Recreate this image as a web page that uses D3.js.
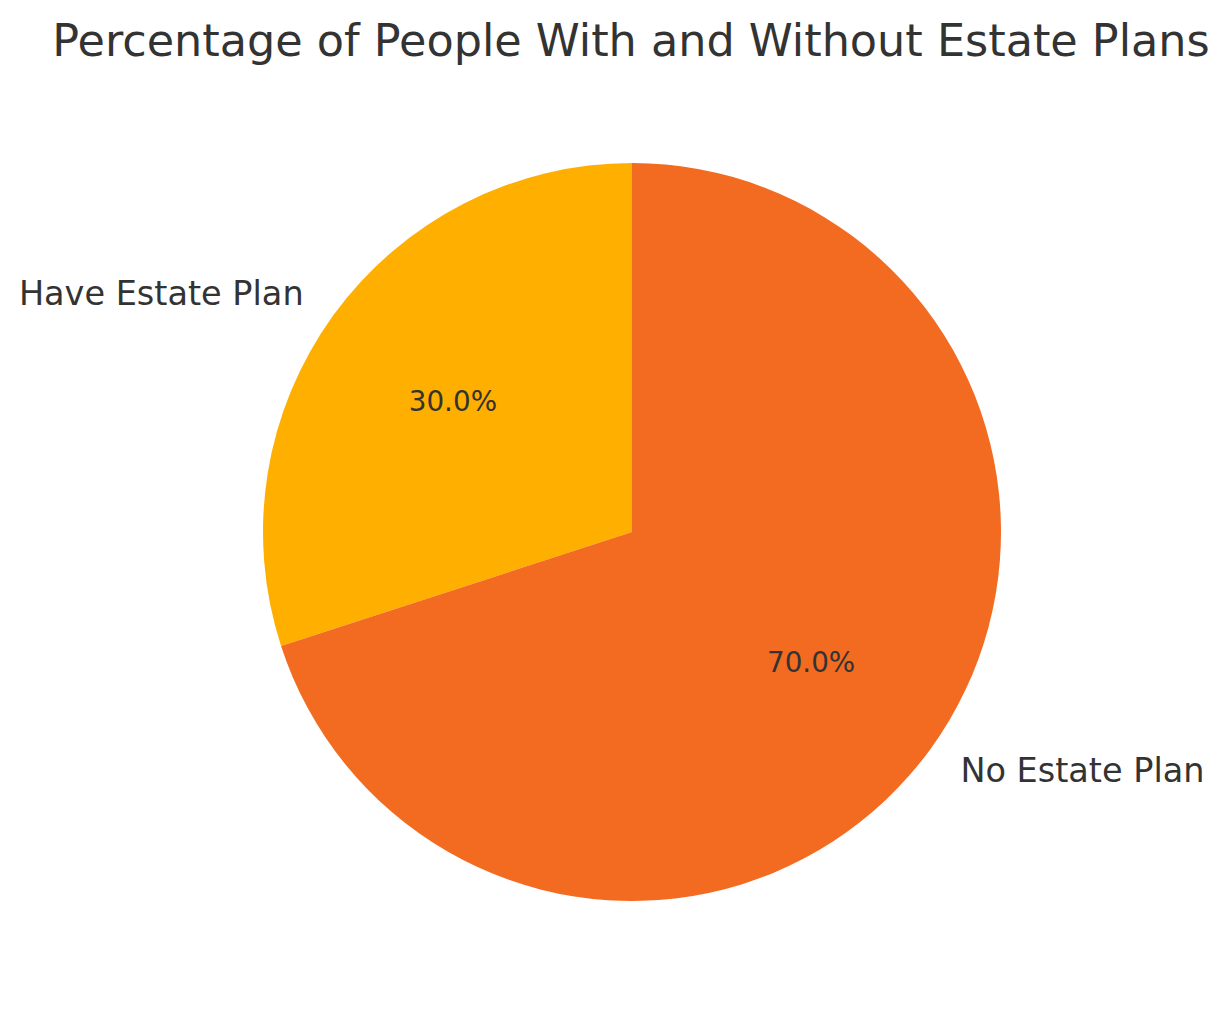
<!DOCTYPE html>
<html>
<head>
<meta charset="utf-8">
<script src="https://cdn.jsdelivr.net/npm/d3@7"></script>
<style>
  body { margin: 0; background: #fff; }
  text { font-family: "DejaVu Sans", sans-serif; fill: #333333; }
</style>
</head>
<body>
<div id="pie"></div>
<script>
const categories = ["Have Estate Plan", "No Estate Plan"];
const values = [30, 70];
const colors = ["#ffaf00", "#f36b21"];

const drawPie = () => {

  /*    Declare the constants    */
  const width = 1230;
  const height = 1014;
  const cx = 632;
  const cy = 532;
  const radius = 369;

  const svg = d3.select("#pie")
    .append("svg")
      .attr("width", width)
      .attr("height", height);

  svg.append("text")
    .text("Percentage of People With and Without Estate Plans")
    .attr("x", 631)
    .attr("y", 40)
    .attr("text-anchor", "middle")
    .attr("dominant-baseline", "central")
    .attr("font-size", 44.5);

  const chart = svg.append("g")
    .attr("transform", `translate(${cx}, ${cy})`);

  // matplotlib style: start at top, counter-clockwise
  const pie = d3.pie()
    .sort(null)
    .startAngle(0)
    .endAngle(-2 * Math.PI);

  const arcs = pie(values);
  const total = d3.sum(values);

  const arc = d3.arc().innerRadius(0).outerRadius(radius);

  chart.selectAll("path")
    .data(arcs)
    .join("path")
      .attr("d", arc)
      .attr("fill", (d, i) => colors[i]);

  const mid = d => (d.startAngle + d.endAngle) / 2;
  const pos = (d, k) => [Math.sin(mid(d)) * radius * k, -Math.cos(mid(d)) * radius * k];

  chart.selectAll(".label")
    .data(arcs)
    .join("text")
      .attr("class", "label")
      .attr("x", d => pos(d, 1.1)[0])
      .attr("y", d => pos(d, 1.1)[1])
      .attr("text-anchor", d => pos(d, 1.1)[0] < 0 ? "end" : "start")
      .attr("dominant-baseline", "central")
      .attr("font-size", 33.5)
      .text((d, i) => categories[i]);

  chart.selectAll(".pct")
    .data(arcs)
    .join("text")
      .attr("class", "pct")
      .attr("x", d => pos(d, 0.6)[0])
      .attr("y", d => pos(d, 0.6)[1])
      .attr("text-anchor", "middle")
      .attr("dominant-baseline", "central")
      .attr("font-size", 27.8)
      .text(d => (d.data / total * 100).toFixed(1) + "%");
}

drawPie();
</script>
</body>
</html>
